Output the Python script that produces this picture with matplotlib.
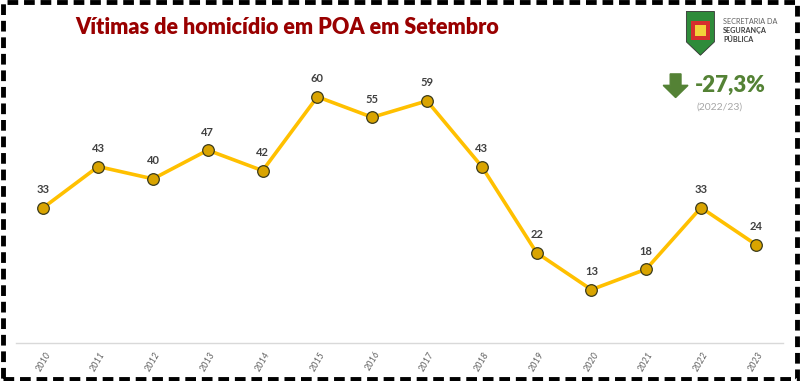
import matplotlib.pyplot as plt
from matplotlib.patches import Rectangle, FancyArrow, Polygon

years = [str(y) for y in range(2010, 2024)]
victims = [33, 43, 40, 47, 42, 60, 55, 59, 43, 22, 13, 18, 33, 24]
title = "Vítimas de homicídio em POA em Setembro"
change_text = "-27,3%"
change_period = "(2022/23)"

plt.rcParams['font.family'] = ['Lato', 'DejaVu Sans']

fig = plt.figure(figsize=(8, 3.81), dpi=100)
ax = fig.add_axes([0.02, 0.0997, 0.959, 0.754])

x = range(len(years))
ax.plot(x, victims, color='#FFC000', linewidth=2.6, zorder=2)
ax.scatter(x, victims, s=70, facecolor='#D9A400', edgecolor='#3A3A1A', linewidth=0.9, zorder=3)
for i, v in zip(x, victims):
    ax.annotate(str(v), (i, v), xytext=(0, 9), textcoords='offset points',
                ha='center', va='bottom', fontsize=8, fontweight='bold', color='#404040')

ax.set_xlim(-0.5, len(years) - 0.5)
ax.set_ylim(0, 70)
ax.set_xticks(list(x))
ax.set_xticklabels(years, rotation=60, fontsize=6.5, color='#606060', style='italic')
ax.tick_params(axis='x', length=0, pad=5)
ax.set_yticks([])
for s in ['top', 'left', 'right']:
    ax.spines[s].set_visible(False)
ax.spines['bottom'].set_color('#D9D9D9')
ax.spines['bottom'].set_linewidth(1)

# title
fig.text(0.0935, 0.928, title, fontsize=15.5, fontweight='heavy', color='#990000',
         ha='left', va='center')

# logo placeholder + agency name
lx, ly = 0.858, 0.90
fig.patches.append(Polygon([[lx, ly + 0.07], [lx + 0.035, ly + 0.07], [lx + 0.035, ly - 0.01],
                            [lx + 0.0175, ly - 0.045], [lx, ly - 0.01]], closed=True,
                           transform=fig.transFigure, facecolor='#2E8B3A', edgecolor='#333333', lw=0.6))
fig.patches.append(Rectangle((lx + 0.006, ly - 0.005), 0.023, 0.05, transform=fig.transFigure,
                             facecolor='#D62E2E', edgecolor='none'))
fig.patches.append(Rectangle((lx + 0.011, ly + 0.005), 0.013, 0.03, transform=fig.transFigure,
                             facecolor='#F2D23A', edgecolor='none'))
fig.text(0.904, 0.943, "SECRETARIA DA", fontsize=5.2, color='#606060', ha='left', va='center')
fig.text(0.904, 0.920, "SEGURANÇA", fontsize=5.2, color='#404040', fontweight='bold', ha='left', va='center')
fig.text(0.904, 0.897, "PÚBLICA", fontsize=5.2, color='#404040', fontweight='bold', ha='left', va='center')

# change indicator
fig.patches.append(FancyArrow(0.8445, 0.806, 0, -0.03, width=0.0135, head_width=0.031,
                              head_length=0.032, length_includes_head=False,
                              transform=fig.transFigure, color='#548235'))
fig.text(0.869, 0.777, change_text, fontsize=16, fontweight='heavy', color='#548235',
         ha='left', va='center')
fig.text(0.899, 0.720, change_period, fontsize=7.5, color='#A6A6A6', ha='center', va='center')

# dashed border
fig.patches.append(Rectangle((0.004, 0.006), 0.992, 0.988, transform=fig.transFigure,
                             fill=False, edgecolor='black', linewidth=3.5, linestyle=(0, (2.2, 1.2))))

fig.savefig('out.png', dpi=100, facecolor='white')
